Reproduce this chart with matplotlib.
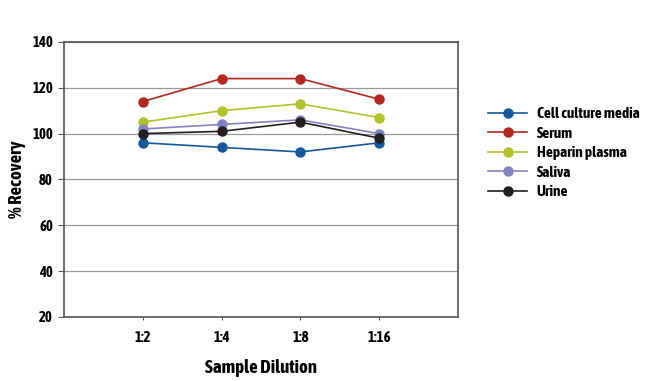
import matplotlib
matplotlib.use('Agg')
import matplotlib.pyplot as plt
from matplotlib import font_manager as fm

dilutions = ['1:2', '1:4', '1:8', '1:16']
cell_culture = [96, 94, 92, 96]
serum = [114, 124, 124, 115]
heparin = [105, 110, 113, 107]
saliva = [102, 104, 106, 100]
urine = [100, 101, 105, 98]

series = [
    ('Cell culture media', cell_culture, '#13599b'),
    ('Serum', serum, '#b2281f'),
    ('Heparin plasma', heparin, '#b3c12b'),
    ('Saliva', saliva, '#8482c3'),
    ('Urine', urine, '#231f20'),
]

# the original uses a condensed bold face; take one if the system has it
narrow = [f for f in fm.fontManager.ttflist
          if 'Narrow' in f.name or 'Condensed' in f.name
          or 'condensed' in str(f.stretch)]
scale = 1.0
if narrow:
    pick = sorted(narrow, key=lambda f: (f.weight not in ('bold', 700), f.name))[0]
    plt.rcParams['font.family'] = [pick.name, 'DejaVu Sans']
    plt.rcParams['font.stretch'] = pick.stretch
else:
    plt.rcParams['font.family'] = ['Liberation Sans', 'DejaVu Sans']
    scale = 0.85
plt.rcParams['font.weight'] = 'bold'
plt.rcParams['axes.labelweight'] = 'bold'

fig = plt.figure(figsize=(6.5, 3.81), dpi=100)
ax = fig.add_axes([0.0985, 0.168, 0.606, 0.722])

x = list(range(1, len(dilutions) + 1))
for name, vals, col in series:
    ax.plot(x, vals, color=col, lw=1.2, marker='o', ms=6.5, label=name)

ax.set_xlim(0, 5)
ax.set_ylim(20, 140)
ax.set_yticks(range(20, 141, 20))
ax.set_xticks(x)
ax.set_xticklabels(dilutions)
ax.yaxis.grid(True, color='#9a9a9a', lw=0.9)
ax.set_axisbelow(True)
for s in ax.spines.values():
    s.set_color('#555555')
    s.set_linewidth(1.2)
ax.tick_params(axis='y', length=4, color='#555555', labelsize=10.5 * scale, pad=4)
ax.tick_params(axis='x', length=2, color='#555555', labelsize=10.5 * scale, pad=8)

ax.set_xlabel('Sample Dilution', fontsize=13.5 * scale, labelpad=10)
ax.set_ylabel('% Recovery', fontsize=13.5 * scale)
ax.yaxis.set_label_coords(-0.097, 0.5)

ax.legend(loc='upper left', bbox_to_anchor=(1.06, 0.785), frameon=False,
          prop={'size': 11 * scale}, handlelength=2.6, labelspacing=0.36,
          handletextpad=0.6, borderaxespad=0)

fig.savefig('out.png', dpi=100)
